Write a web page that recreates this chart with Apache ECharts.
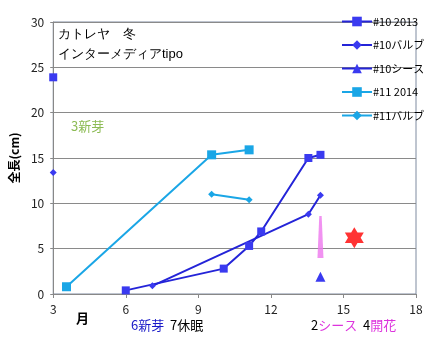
<!DOCTYPE html>
<html><head><meta charset="utf-8">
<script src="https://cdn.jsdelivr.net/npm/echarts@6/dist/echarts.min.js"></script>
<style>html,body{margin:0;padding:0;background:#fff}#c{width:432px;height:341px}</style>
</head><body><div id="c"></div>
<script>
const xTicks = [3, 6, 9, 12, 15, 18];
const s10_2013 = [[3, 23.9], [4, '-'], [6, 0.4], [10.05, 2.8], [11.1, 5.3], [11.6, 6.9], [13.55, 15.0], [14.05, 15.35]];
const s10_bulb = [[3, 13.4], [4, '-'], [7.1, 0.9], [13.55, 8.8], [14.05, 10.9]];
const s10_sheath = [[14.05, 1.9]];
const s11_2014 = [[3.55, 0.8], [9.55, 15.35], [11.1, 15.9]];
const s11_bulb = [[9.55, 11.0], [11.1, 10.4]];
const sheathMark = [[14.05, 6.3]];
const flowerMark = [[15.45, 6.2]];
const names = ['#10 2013', '#10バルブ', '#10シース', '#11 2014', '#11バルブ'];

const chart = echarts.init(document.getElementById('c'));
const font = '"Noto Sans CJK JP", "Noto Sans", sans-serif';
const dark = '#2424d8', mk = '#3a3af0', light = '#1aa6e6';
chart.setOption({
  animation: false,
  textStyle: { fontFamily: font },
  grid: { left: 52, right: 16, top: 22, bottom: 47, show: true, borderColor: '#7f8ba0', borderWidth: 1 },
  xAxis: {
    type: 'value', min: xTicks[0], max: xTicks[xTicks.length - 1], interval: 3,
    axisLine: { lineStyle: { color: '#888' } },
    axisTick: { show: true, length: 4, lineStyle: { color: '#888' } },
    axisLabel: { color: '#222', fontSize: 12, margin: 9, fontFamily: font },
    splitLine: { show: false }
  },
  yAxis: {
    type: 'value', min: 0, max: 30, interval: 5,
    name: '全長(cm)', nameLocation: 'middle', nameRotate: 90, nameGap: 30,
    nameTextStyle: { fontWeight: 'bold', fontSize: 12, color: '#000', fontFamily: font },
    axisLine: { show: true, lineStyle: { color: '#888' } },
    axisTick: { show: true, length: 3, lineStyle: { color: '#888' } },
    axisLabel: { color: '#222', fontSize: 12, margin: 9, fontFamily: font },
    splitLine: { lineStyle: { color: '#8a8a8a' } }
  },
  legend: {
    data: names, orient: 'vertical', left: 336, top: 11, itemWidth: 30, itemHeight: 12, itemGap: 12.5,
    textStyle: { fontSize: 11, color: '#000', padding: [0, 0, 0, -4] }
  },
  series: [
    { name: names[0], type: 'line', data: s10_2013, symbol: 'rect', symbolSize: 8, lineStyle: { color: dark, width: 2 }, itemStyle: { color: mk }, connectNulls: false },
    { name: names[1], type: 'line', data: s10_bulb, symbol: 'diamond', symbolSize: 7, lineStyle: { color: dark, width: 2 }, itemStyle: { color: mk }, connectNulls: false },
    { name: names[2], type: 'line', data: s10_sheath, symbol: 'triangle', symbolSize: 10, lineStyle: { color: dark, width: 2 }, itemStyle: { color: mk } },
    { name: names[3], type: 'line', data: s11_2014, symbol: 'rect', symbolSize: 9, lineStyle: { color: light, width: 2 }, itemStyle: { color: light } },
    { name: names[4], type: 'line', data: s11_bulb, symbol: 'diamond', symbolSize: 7, lineStyle: { color: light, width: 2 }, itemStyle: { color: light } },
    { name: 'sheath', type: 'scatter', data: sheathMark, symbol: 'path://M1.5,0 L3.5,0 L5,40 L0,40 Z', symbolSize: [6, 42], itemStyle: { color: '#ee77ee' } },
    { name: 'flower', type: 'scatter', data: flowerMark, symbol: 'path://M10,0 L12.887,5 L18.66,5 L15.77,10 L18.66,15 L12.887,15 L10,20 L7.113,15 L1.34,15 L4.23,10 L1.34,5 L7.113,5 Z', symbolSize: [19, 21], itemStyle: { color: '#ff0000' } }
  ],
  graphic: [
    { type: 'text', left: 58, top: 28, style: { text: 'カトレヤ　冬', fontSize: 13, fill: '#000', font: '13px ' + font } },
    { type: 'text', left: 58, top: 48, style: { text: 'インターメディアtipo', fontSize: 13, fill: '#000', font: '13px ' + font } },
    { type: 'text', left: 71, top: 120, style: { text: '3新芽', fill: '#8cbb54', font: '13px ' + font } },
    { type: 'text', left: 76, top: 312, style: { text: '月', fill: '#000', font: 'bold 13px ' + font } },
    { type: 'text', left: 131, top: 319, style: { text: '{b|6新芽}  {k|7休眠}', font: '13px ' + font, rich: { b: { fill: '#1a1ac8', fontSize: 13, fontFamily: font }, k: { fill: '#000', fontSize: 13, fontFamily: font } } } },
    { type: 'text', left: 311, top: 319, style: { text: '{k|2}{m|シース}  {k|4}{m|開花}', font: '13px ' + font, rich: { m: { fill: '#dd33dd', fontSize: 13, fontFamily: font }, k: { fill: '#000', fontSize: 13, fontFamily: font } } } }
  ]
});
</script></body></html>
